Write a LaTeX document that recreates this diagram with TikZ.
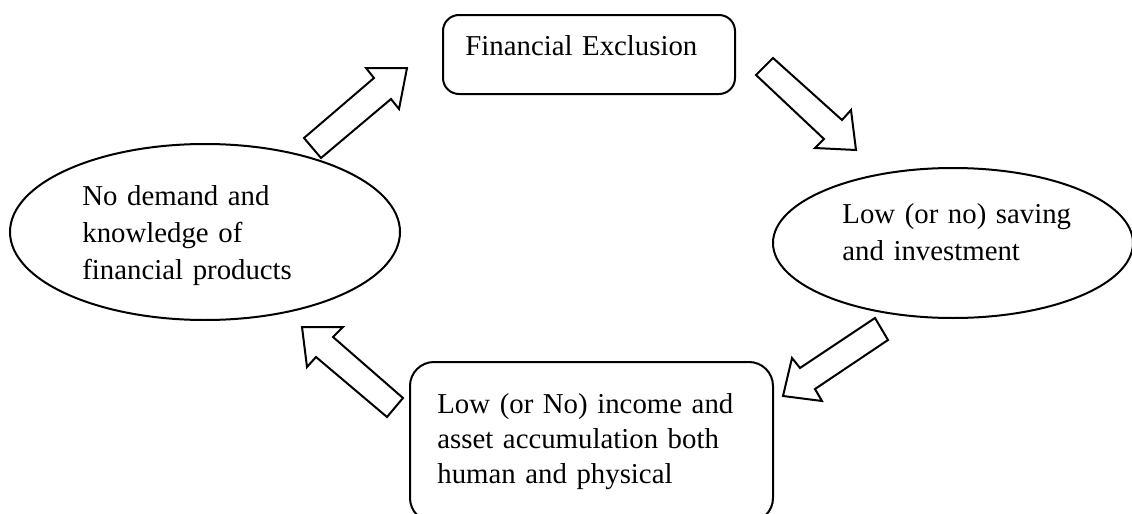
\documentclass[tikz,border=0pt]{standalone}
\usepackage{fontspec}
\setmainfont{Liberation Serif}
\begin{document}
\begin{tikzpicture}[x=0.5pt,y=-0.5pt,
  shapeline/.style={draw=black,line width=1pt,fill=white},
  blockarrow/.style={draw=black,line width=1pt,fill=white,line join=miter},
  label/.style={inner sep=0pt,anchor=base west,text width=200pt,align=left,
    font=\fontsize{14.4}{18}\selectfont}]
\useasboundingbox (0,0) rectangle (1132,514);
\clip (0,0) rectangle (1132,514);
% shapes
\draw[shapeline,rounded corners=8pt] (443,15) rectangle (735,94);
\draw[shapeline] (953,243) ellipse [x radius=90pt,y radius=37.5pt];
\draw[shapeline,rounded corners=12pt] (410,362) rectangle (773,522);
\draw[shapeline] (205,232) ellipse [x radius=97.5pt,y radius=44pt];
% texts
\node[label] (fe) at (465,55) {Financial Exclusion};
\node[label,font=\fontsize{14.4}{18.5}\selectfont] (ls) at (842,223) {Low (or no) saving\\and investment};
\node[label,font=\fontsize{14.4}{17.5}\selectfont] (li) at (437,413) {Low (or No) income and\\asset accumulation both\\human and physical};
\node[label,font=\fontsize{14.4}{18.7}\selectfont] (nd) at (82,205) {No demand and\\knowledge of\\financial products};
% block arrows
\draw[blockarrow] (304,138) -- (374,78) -- (366,68) -- (407,68) -- (399,109) -- (391,99) -- (321,158) -- cycle;
\draw[blockarrow] (756,75) -- (773,58) -- (842,120) -- (851,110) -- (856,150) -- (815,148) -- (824,139) -- cycle;
\draw[blockarrow] (875,318) -- (888,340) -- (815,389) -- (822,401) -- (783,396) -- (792,358) -- (800,368) -- cycle;
\draw[blockarrow] (403,398) -- (387,417) -- (316,357) -- (307,367) -- (302,327) -- (343,327) -- (333,337) -- cycle;
\end{tikzpicture}
\end{document}
